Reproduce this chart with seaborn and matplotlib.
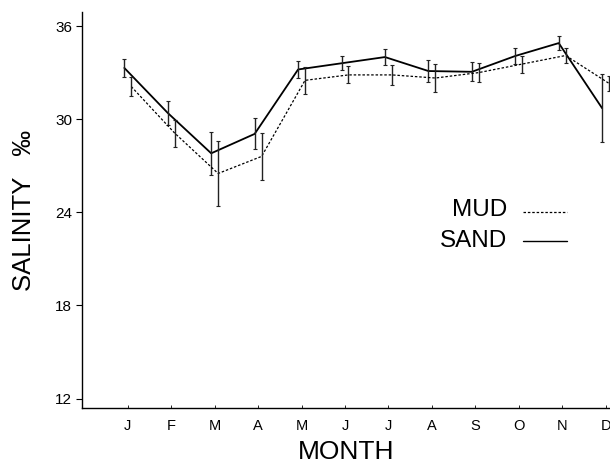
import matplotlib
matplotlib.use("Agg")
import matplotlib.pyplot as plt
import seaborn as sns
import numpy as np
import pandas as pd

months = ['J', 'F', 'M', 'A', 'M', 'J', 'J', 'A', 'S', 'O', 'N', 'D']
sand_mean = [33.3, 30.4, 27.8, 29.05, 33.2, 33.6, 34.0, 33.1, 33.05, 34.07, 34.9, 30.7]
sand_err = [0.6, 0.8, 1.4, 1.0, 0.55, 0.45, 0.5, 0.7, 0.6, 0.5, 0.45, 2.2]
mud_mean = [32.1, 29.1, 26.5, 27.6, 32.5, 32.85, 32.85, 32.65, 33.0, 33.55, 34.1, 32.3]
mud_err = [0.6, 0.87, 2.1, 1.5, 0.85, 0.55, 0.65, 0.9, 0.6, 0.55, 0.5, 0.5]

sns.set_style("ticks")
plt.rcParams['font.family'] = ['Liberation Sans', 'DejaVu Sans']
plt.rcParams.update({'text.color': 'black', 'axes.labelcolor': 'black',
                     'xtick.color': 'black', 'ytick.color': 'black'})

x = np.arange(len(months))
df = pd.DataFrame({
    'pos': np.concatenate([x - 0.08, x + 0.08]),
    'salinity': sand_mean + mud_mean,
    'err': sand_err + mud_err,
    'site': ['SAND'] * 12 + ['MUD'] * 12,
})

fig = plt.figure(figsize=(6.1, 4.63), dpi=100)
ax = fig.add_axes([0.134, 0.119, 0.866, 0.855])

styles = {'SAND': dict(lw=1.3, ls='-'), 'MUD': dict(lw=0.9, ls=(0, (2, 1.5)))}
for site, st in styles.items():
    d = df[df.site == site]
    sns.lineplot(data=d, x='pos', y='salinity', color='black', linewidth=st['lw'],
                 linestyle=st['ls'], ax=ax, legend=False)
    ax.errorbar(d.pos, d.salinity, yerr=d.err, fmt='none', ecolor='#222222',
                elinewidth=1.0, capsize=1.5, capthick=0.8)

ax.set_xlim(-1.06, 11.1)
ax.set_ylim(11.4, 36.9)
ax.set_yticks([12, 18, 24, 30, 36])
ax.set_xticks(x)
ax.set_xticklabels(months)
ax.tick_params(axis='y', direction='out', length=4, width=0.8, labelsize=11, pad=3)
ax.tick_params(axis='x', direction='in', length=2, width=0.6, labelsize=10.5, pad=8)
sns.despine(ax=ax, top=True, right=True)
for s in ['left', 'bottom']:
    ax.spines[s].set_linewidth(1.0)
    ax.spines[s].set_color('black')

ax.set_xlabel('MONTH', fontsize=19, labelpad=5)
ax.set_ylabel('SALINITY   ‰', fontsize=18.5, labelpad=14)

# legend drawn as text with line samples
ax.text(8.73, 24.13, 'MUD', fontsize=17.5, ha='right', va='center')
ax.text(8.73, 22.17, 'SAND', fontsize=17.5, ha='right', va='center')
ax.plot([9.1, 10.1], [23.99, 23.99], color='black', lw=0.9, ls=(0, (2, 1.5)))
ax.plot([9.1, 10.1], [22.18, 22.18], color='black', lw=1.0, ls='-')

fig.savefig('out.png', dpi=100)
